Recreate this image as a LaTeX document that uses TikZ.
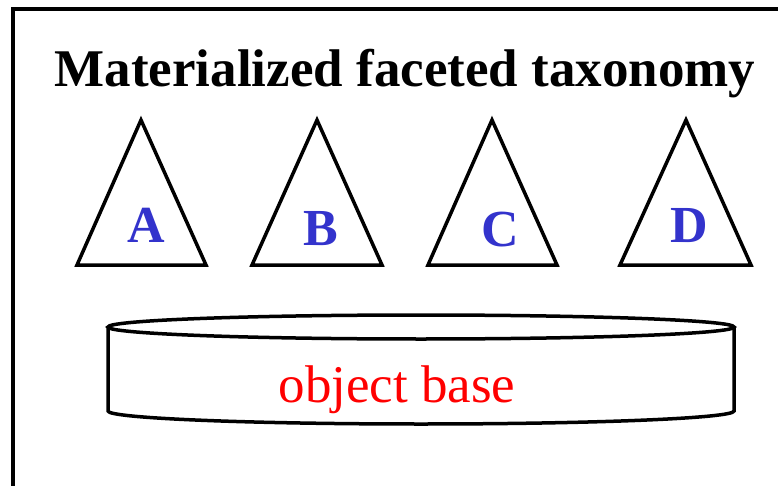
\documentclass[tikz,border=0pt]{standalone}
\usepackage{fontspec}
\setmainfont{Liberation Serif}
\usepackage{xcolor}
\usetikzlibrary{positioning}
\definecolor{letterblue}{HTML}{3333CC}

\begin{document}
\begin{tikzpicture}[x=1pt, y=-1pt,
    outline/.style={draw=black, line width=3.5pt, line join=miter},
    facet/.style={font=\fontsize{52}{52}\selectfont\bfseries, text=letterblue, anchor=base},
    heading/.style={font=\fontsize{53}{53}\selectfont\bfseries, anchor=base},
    baselabel/.style={font=\fontsize{53}{53}\selectfont, text=red, anchor=base}
]
    \useasboundingbox (0,0) rectangle (778,486);

    % Frame (open at right and bottom)
    \draw[line width=4pt] (13,490) -- (13,9) -- (790,9);

    % Title
    \node[heading] (title) at (405,87) {Materialized faceted taxonomy};

    % Facets
    \foreach \name/\apex/\left/\right/\lx/\ly in {A/141/77/206/146/243, B/317/252/382/321/245, C/492/428/557/500/247, D/686/620/751/689/243}{
        \draw[outline] (\apex,120) -- (\left,265) -- (\right,265) -- cycle;
        \node[facet] (facet\name) at (\lx,\ly) {\name};
    }

    % Object base
    \draw[outline] (108,327) -- (108,411) arc[start angle=180, end angle=0, x radius=313, y radius=13] -- (734,327);
    \draw[outline] (421,327) ellipse[x radius=313, y radius=12];
    \node[baselabel] (objbase) at (397,402) {object base};
\end{tikzpicture}
\end{document}
